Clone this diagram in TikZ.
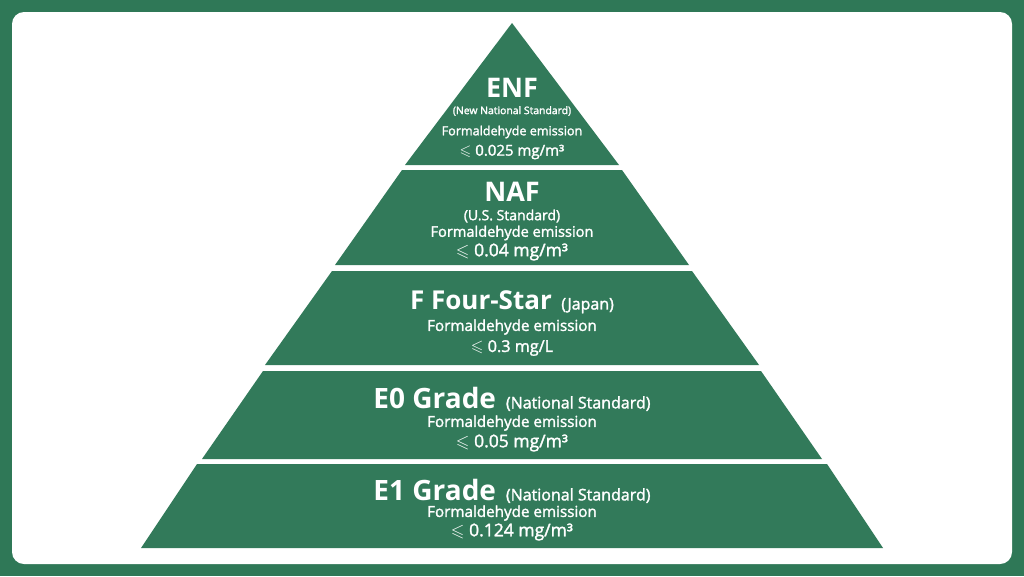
\documentclass[tikz,border=0pt]{standalone}
\usepackage{amssymb}
\usepackage{fontspec}
\setmainfont{Open Sans}
\setsansfont{Open Sans}
\newfontfamily\medfont[FakeBold=1.8]{Open Sans}
\definecolor{pgreen}{RGB}{50,122,90}
\definecolor{bggreen}{RGB}{47,120,87}
\newcommand{\fs}[1]{\fontsize{#1}{#1}\selectfont}
\tikzset{
  layer/.style={fill=pgreen, draw=none},
  ttl/.style={text=white, font=\bfseries\fs{27}, inner sep=0pt, anchor=center},
  sub/.style={text=white, font=\medfont\fs{10.4}, inner sep=0pt, anchor=center},
  body/.style={text=white, font=\medfont\fs{15.2}, inner sep=0pt, anchor=center},
  val/.style={text=white, font=\medfont\fs{17.5}, inner sep=0pt, anchor=center},
}
\newcommand{\leqs}{$\leqslant$}
\newcommand{\paren}[1]{{\medfont\mdseries\fs{16}\,#1}}
\begin{document}
\begin{tikzpicture}[x=1pt,y=-1pt]
\useasboundingbox (0,0) rectangle (1024,576);
\fill[bggreen] (0,0) rectangle (1024,576);
\fill[white, rounded corners=12pt] (12,12) rectangle (1012,564);
% layers
\fill[layer] (512,23) -- (619,165) -- (405,165) -- cycle;
\fill[layer] (402,170) -- (622,170) -- (689,265) -- (335,265) -- cycle;
\fill[layer] (332,271) -- (692,271) -- (759,365) -- (265,365) -- cycle;
\fill[layer] (263,371) -- (761,371) -- (822,459) -- (202,459) -- cycle;
\fill[layer] (197,464) -- (827,464) -- (883,548) -- (141,548) -- cycle;
% layer 1
\node[ttl] (t1) at (512,88) {ENF};
\node[sub] (s1) at (512,111) {(New National Standard)};
\node[body, font=\medfont\fs{12.6}] (b1) at (512,132) {Formaldehyde emission};
\node[val, font=\medfont\fs{15}] (v1) at (512,152) {\leqs{} 0.025 mg/m³};
% layer 2
\node[ttl] (t2) at (512,192) {NAF};
\node[sub, font=\medfont\fs{14}] (s2) at (512,216) {(U.S. Standard)};
\node[body, font=\medfont\fs{14.6}] (b2) at (512,233) {Formaldehyde emission};
\node[val] (v2) at (512,252) {\leqs{} 0.04 mg/m³};
% layer 3
\node[ttl, font=\bfseries\fs{26}] (t3) at (512,302) {F Four-Star \paren{(Japan)}};
\node[body] (b3) at (512,327) {Formaldehyde emission};
\node[val, font=\medfont\fs{16.2}] (v3) at (512,348) {\leqs{} 0.3 mg/L};
% layer 4
\node[ttl, font=\bfseries\fs{28}] (t4) at (512,399) {E0 Grade \paren{(National Standard)}};
\node[body] (b4) at (512,423) {Formaldehyde emission};
\node[val] (v4) at (512,443) {\leqs{} 0.05 mg/m³};
% layer 5
\node[ttl, font=\bfseries\fs{28}] (t5) at (512,491) {E1 Grade \paren{(National Standard)}};
\node[body] (b5) at (512,513) {Formaldehyde emission};
\node[val] (v5) at (512,532) {\leqs{} 0.124 mg/m³};
\end{tikzpicture}
\end{document}
